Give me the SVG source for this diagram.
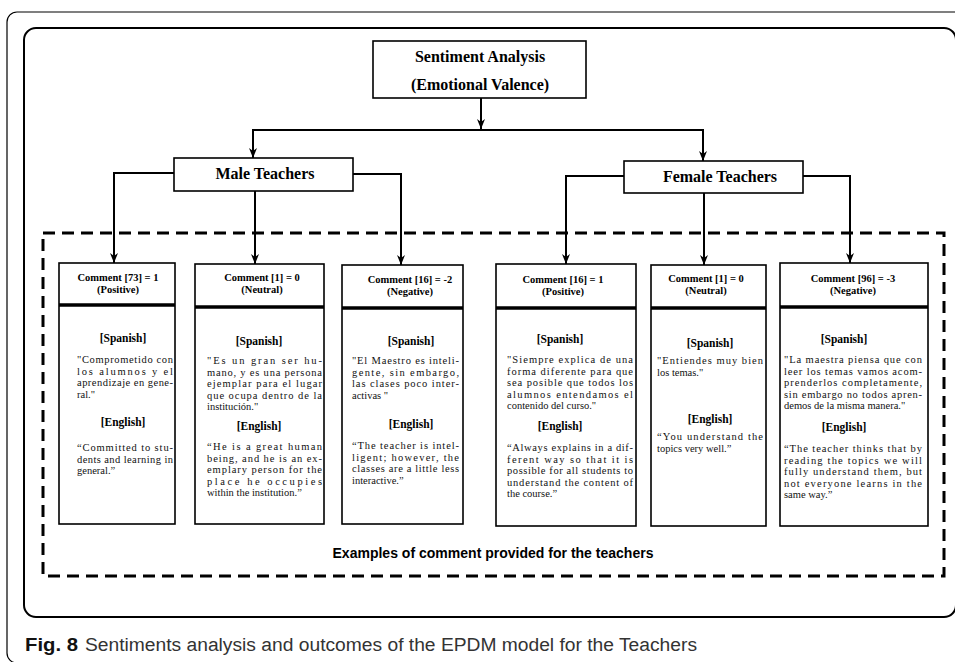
<svg xmlns="http://www.w3.org/2000/svg" width="955" height="662" viewBox="0 0 955 662">
<defs>
<marker id="ah" markerUnits="userSpaceOnUse" markerWidth="10" markerHeight="9" refX="10" refY="4.5" orient="auto">
<path d="M0,0.5 L10,4.5 L0,8.5 L3,4.5 z" fill="#000"/>
</marker>
<style>
.frame{fill:none;stroke:#000}
.node{fill:#fff;stroke:#000;stroke-width:1.6}
.bar{stroke:#000;stroke-width:3.5}
.conn{fill:none;stroke:#000;stroke-width:2}
.ttl{font-family:"Liberation Serif","Times New Roman",serif;font-weight:bold;font-size:16px;text-anchor:middle;fill:#000}
.hd{font-family:"Liberation Serif","Times New Roman",serif;font-weight:bold;font-size:10.5px;text-anchor:middle;fill:#000}
.lg{font-family:"Liberation Serif","Times New Roman",serif;font-weight:bold;font-size:11.5px;text-anchor:middle;fill:#000}
.bd{font-family:"Liberation Serif","Times New Roman",serif;font-size:10.5px;fill:#111}
.ex{font-family:"Liberation Sans",Arial,sans-serif;font-weight:bold;font-size:15px;text-anchor:middle;fill:#000}
.cap{font-family:"Liberation Sans",Arial,sans-serif;font-size:18px;fill:#333}
</style>
</defs>
<rect width="955" height="662" fill="#fff"/>
<rect class="frame" x="7" y="12" width="980" height="651" rx="10" stroke-width="1.2" stroke="#444"/>
<rect class="frame" x="24" y="28" width="932" height="589" rx="12" stroke-width="2"/>
<rect class="frame" x="43" y="233" width="901" height="343" stroke-width="3" stroke-dasharray="12 7"/>

<g id="connectors">
<line class="conn" x1="481" y1="98" x2="481" y2="129" marker-end="url(#ah)"/>
<polyline class="conn" points="253,150 253,130 703,130 703,150"/>
<line class="conn" x1="253" y1="140" x2="253" y2="158" marker-end="url(#ah)"/>
<line class="conn" x1="703" y1="140" x2="703" y2="161" marker-end="url(#ah)"/>
<polyline class="conn" points="174,173 114,173 114,263" marker-end="url(#ah)"/>
<line class="conn" x1="255" y1="191" x2="255" y2="264" marker-end="url(#ah)"/>
<polyline class="conn" points="353,174 401,174 401,265" marker-end="url(#ah)"/>
<polyline class="conn" points="624,176 566,176 566,264" marker-end="url(#ah)"/>
<line class="conn" x1="704" y1="193" x2="704" y2="265" marker-end="url(#ah)"/>
<polyline class="conn" points="803,176 850,176 850,263" marker-end="url(#ah)"/>
</g>

<g id="root">
<rect class="node" x="373" y="41" width="213" height="57"/>
<text class="ttl" x="480" y="62">Sentiment Analysis</text>
<text class="ttl" x="480" y="90">(Emotional Valence)</text>
</g>

<g id="male">
<rect class="node" x="174" y="158" width="179" height="33"/>
<text class="ttl" x="265" y="179">Male Teachers</text>
</g>

<g id="female">
<rect class="node" x="624" y="161" width="179" height="32"/>
<text class="ttl" x="720" y="182">Female Teachers</text>
</g>

<g id="m-pos">
<rect class="node" x="59" y="263" width="116" height="261"/>
<line class="bar" x1="59" y1="305" x2="175" y2="305"/>
<text class="hd" x="118" y="281">Comment [73] = 1</text>
<text class="hd" x="118" y="293">(Positive)</text>
<text class="lg" x="123" y="342">[Spanish]</text>
<text class="bd" x="77" y="363" textLength="96" lengthAdjust="spacing">"Comprometido con</text>
<text class="bd" x="77" y="374.5" textLength="96" lengthAdjust="spacing">los alumnos y el</text>
<text class="bd" x="77" y="386" textLength="96" lengthAdjust="spacing">aprendizaje en gene-</text>
<text class="bd" x="77" y="397.5">ral."</text>
<text class="lg" x="123" y="426">[English]</text>
<text class="bd" x="77" y="451" textLength="96" lengthAdjust="spacing">“Committed to stu-</text>
<text class="bd" x="77" y="462.5" textLength="96" lengthAdjust="spacing">dents and learning in</text>
<text class="bd" x="77" y="474">general.”</text>
</g>

<g id="m-neu">
<rect class="node" x="195" y="264" width="129" height="260"/>
<line class="bar" x1="195" y1="307" x2="324" y2="307"/>
<text class="hd" x="262" y="281">Comment [1] = 0</text>
<text class="hd" x="262" y="293">(Neutral)</text>
<text class="lg" x="259" y="345">[Spanish]</text>
<text class="bd" x="207" y="364" textLength="115" lengthAdjust="spacing">"Es un gran ser hu-</text>
<text class="bd" x="207" y="375.5" textLength="115" lengthAdjust="spacing">mano, y es una persona</text>
<text class="bd" x="207" y="387" textLength="115" lengthAdjust="spacing">ejemplar para el lugar</text>
<text class="bd" x="207" y="398.5" textLength="115" lengthAdjust="spacing">que ocupa dentro de la</text>
<text class="bd" x="207" y="410">institución."</text>
<text class="lg" x="259" y="430">[English]</text>
<text class="bd" x="207" y="450" textLength="115" lengthAdjust="spacing">“He is a great human</text>
<text class="bd" x="207" y="461.5" textLength="115" lengthAdjust="spacing">being, and he is an ex-</text>
<text class="bd" x="207" y="473" textLength="115" lengthAdjust="spacing">emplary person for the</text>
<text class="bd" x="207" y="484.5" textLength="115" lengthAdjust="spacing">place he occupies</text>
<text class="bd" x="207" y="496">within the institution.”</text>
</g>

<g id="m-neg">
<rect class="node" x="342" y="265" width="121" height="259"/>
<line class="bar" x1="342" y1="308" x2="463" y2="308"/>
<text class="hd" x="410" y="283">Comment [16] = -2</text>
<text class="hd" x="410" y="295">(Negative)</text>
<text class="lg" x="411" y="345">[Spanish]</text>
<text class="bd" x="352" y="364" textLength="107" lengthAdjust="spacing">"El Maestro es inteli-</text>
<text class="bd" x="352" y="375.5" textLength="107" lengthAdjust="spacing">gente, sin embargo,</text>
<text class="bd" x="352" y="387" textLength="107" lengthAdjust="spacing">las clases poco inter-</text>
<text class="bd" x="352" y="398.5">activas "</text>
<text class="lg" x="411" y="428">[English]</text>
<text class="bd" x="352" y="449" textLength="107" lengthAdjust="spacing">“The teacher is intel-</text>
<text class="bd" x="352" y="460.5" textLength="107" lengthAdjust="spacing">ligent; however, the</text>
<text class="bd" x="352" y="472" textLength="107" lengthAdjust="spacing">classes are a little less</text>
<text class="bd" x="352" y="483.5">interactive.”</text>
</g>

<g id="f-pos">
<rect class="node" x="496" y="264" width="140" height="262"/>
<line class="bar" x1="496" y1="308" x2="636" y2="308"/>
<text class="hd" x="563" y="283">Comment [16] = 1</text>
<text class="hd" x="563" y="295">(Positive)</text>
<text class="lg" x="560" y="343">[Spanish]</text>
<text class="bd" x="507" y="363" textLength="126" lengthAdjust="spacing">"Siempre explica de una</text>
<text class="bd" x="507" y="374.5" textLength="126" lengthAdjust="spacing">forma diferente para que</text>
<text class="bd" x="507" y="386" textLength="126" lengthAdjust="spacing">sea posible que todos los</text>
<text class="bd" x="507" y="397.5" textLength="126" lengthAdjust="spacing">alumnos entendamos el</text>
<text class="bd" x="507" y="409">contenido del curso."</text>
<text class="lg" x="560" y="430">[English]</text>
<text class="bd" x="507" y="451" textLength="126" lengthAdjust="spacing">“Always explains in a dif-</text>
<text class="bd" x="507" y="462.5" textLength="126" lengthAdjust="spacing">ferent way so that it is</text>
<text class="bd" x="507" y="474" textLength="126" lengthAdjust="spacing">possible for all students to</text>
<text class="bd" x="507" y="485.5" textLength="126" lengthAdjust="spacing">understand the content of</text>
<text class="bd" x="507" y="497">the course.”</text>
</g>

<g id="f-neu">
<rect class="node" x="651" y="265" width="115" height="261"/>
<line class="bar" x1="651" y1="308" x2="766" y2="308"/>
<text class="hd" x="706" y="282">Comment [1] = 0</text>
<text class="hd" x="706" y="294">(Neutral)</text>
<text class="lg" x="710" y="347">[Spanish]</text>
<text class="bd" x="657" y="364" textLength="106" lengthAdjust="spacing">"Entiendes muy bien</text>
<text class="bd" x="657" y="375.5">los temas."</text>
<text class="lg" x="710" y="423">[English]</text>
<text class="bd" x="657" y="440" textLength="106" lengthAdjust="spacing">“You understand the</text>
<text class="bd" x="657" y="451.5">topics very well.”</text>
</g>

<g id="f-neg">
<rect class="node" x="780" y="263" width="148" height="263"/>
<line class="bar" x1="780" y1="307" x2="928" y2="307"/>
<text class="hd" x="853" y="282">Comment [96] = -3</text>
<text class="hd" x="853" y="294">(Negative)</text>
<text class="lg" x="844" y="343">[Spanish]</text>
<text class="bd" x="784" y="363" textLength="138" lengthAdjust="spacing">"La maestra piensa que con</text>
<text class="bd" x="784" y="374.5" textLength="138" lengthAdjust="spacing">leer los temas vamos acom-</text>
<text class="bd" x="784" y="386" textLength="138" lengthAdjust="spacing">prenderlos completamente,</text>
<text class="bd" x="784" y="397.5" textLength="138" lengthAdjust="spacing">sin embargo no todos apren-</text>
<text class="bd" x="784" y="409">demos de la misma manera."</text>
<text class="lg" x="844" y="431">[English]</text>
<text class="bd" x="784" y="452" textLength="138" lengthAdjust="spacing">“The teacher thinks that by</text>
<text class="bd" x="784" y="463.5" textLength="138" lengthAdjust="spacing">reading the topics we will</text>
<text class="bd" x="784" y="475" textLength="138" lengthAdjust="spacing">fully understand them, but</text>
<text class="bd" x="784" y="486.5" textLength="138" lengthAdjust="spacing">not everyone learns in the</text>
<text class="bd" x="784" y="498">same way.”</text>
</g>

<text class="ex" x="493" y="558" textLength="321" lengthAdjust="spacingAndGlyphs">Examples of comment provided for the teachers</text>

<text x="25" y="651" font-family="Liberation Sans, Arial, sans-serif" font-weight="bold" font-size="18" fill="#111" textLength="53" lengthAdjust="spacingAndGlyphs">Fig. 8</text>
<text class="cap" x="85" y="651" textLength="612" lengthAdjust="spacingAndGlyphs">Sentiments analysis and outcomes of the EPDM model for the Teachers</text>
</svg>
